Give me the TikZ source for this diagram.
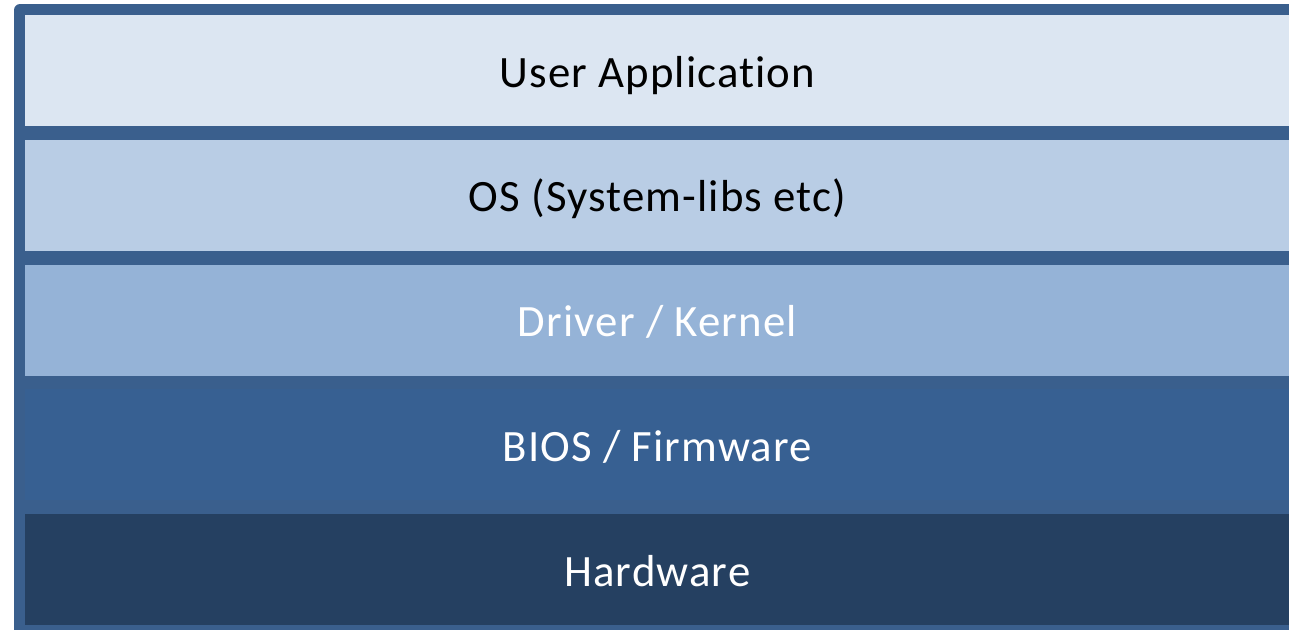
\documentclass[tikz,border=0pt]{standalone}
\usepackage{fontspec}
\setmainfont{Carlito}[LetterSpace=2.5,Ligatures=NoCommon]
\usepackage{xcolor}
\usetikzlibrary{positioning}

\definecolor{frameblue}{HTML}{3A5F8D}
\definecolor{userfill}{HTML}{DCE6F2}
\definecolor{osfill}{HTML}{B9CDE5}
\definecolor{driverfill}{HTML}{95B3D7}
\definecolor{biosfill}{HTML}{376092}
\definecolor{hwfill}{HTML}{254061}

\begin{document}
\begin{tikzpicture}[
      layer_box/.style={
         rectangle,
         inner sep=0pt,
         minimum width=25.28cm,
         minimum height=2.22cm,
         text height=18.7pt,
         text depth=0pt,
         font=\fontsize{25.5}{30}\selectfont},
      light_layer/.style={
         layer_box,
         text=black},
      dark_layer/.style={
         layer_box,
         text=white}
]
      \useasboundingbox (0,0) rectangle (25.78,-12.58);

      %frame
      \fill[frameblue, rounded corners=0.12cm] (0.28,-0.08) rectangle (26.5,-13.0);

      %layers
      \node[light_layer, fill=userfill, anchor=north west] (user) at (0.5,-0.3) {User Application};
      \node[light_layer, fill=osfill, below=0.26cm of user] (os) {OS (System-libs etc)};
      \node[dark_layer, fill=driverfill, below=0.26cm of os] (driver) {Driver / Kernel};
      \node[dark_layer, fill=biosfill, below=0.26cm of driver] (bios) {BIOS / Firmware};
      \node[dark_layer, fill=hwfill, below=0.26cm of bios] (hw) {Hardware};

\end{tikzpicture}
\end{document}
